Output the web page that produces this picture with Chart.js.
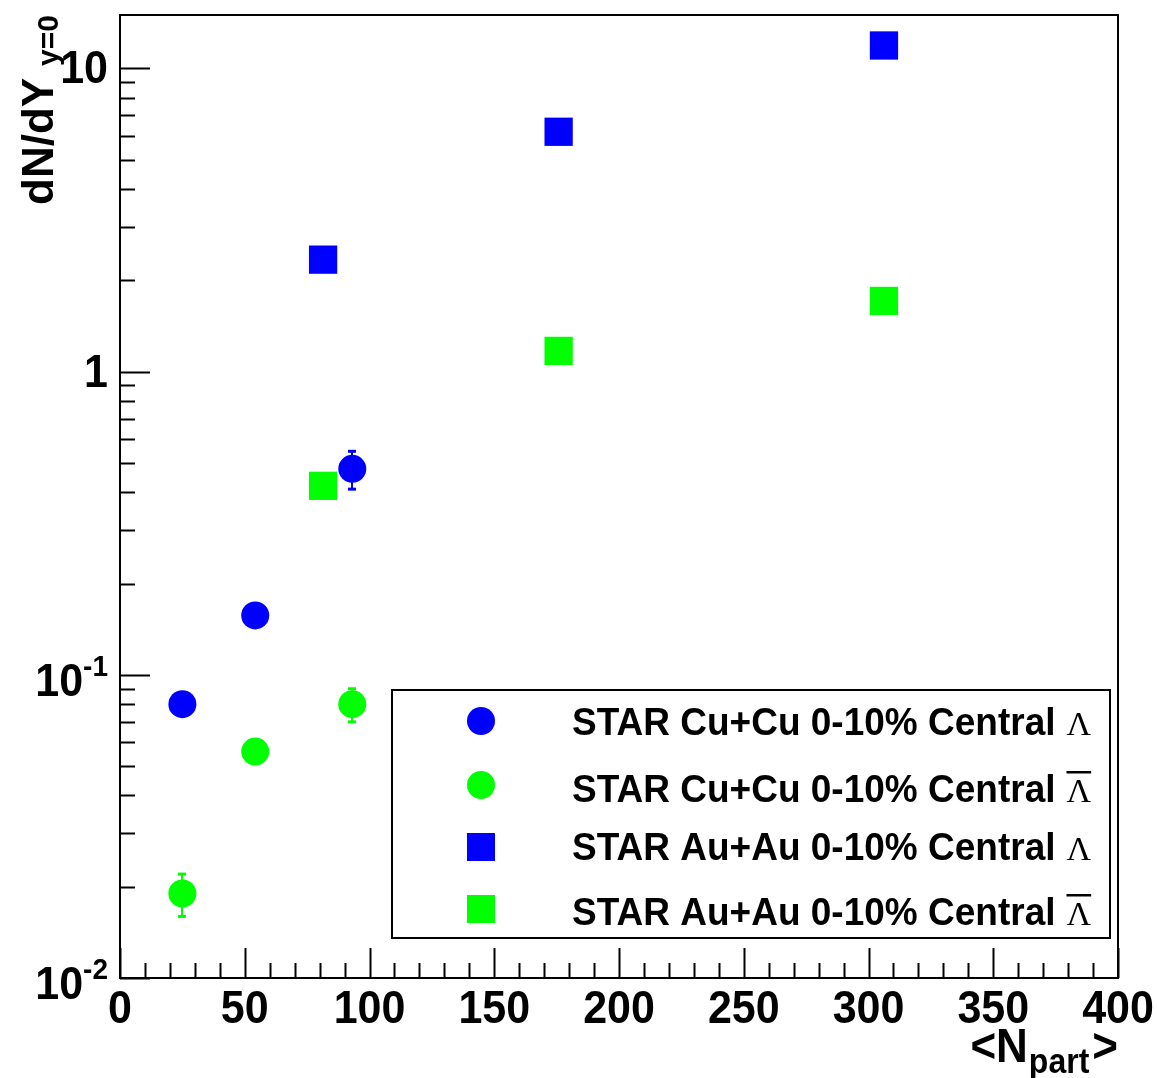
<!DOCTYPE html>
<html>
<head>
<meta charset="utf-8">
<script src="https://cdn.jsdelivr.net/npm/chart.js@4.4.0/dist/chart.umd.min.js"></script>
<style>
  html, body { margin: 0; padding: 0; background: #ffffff; }
  canvas { display: block; }
</style>
</head>
<body>
<canvas id="chart" width="1157" height="1078"></canvas>
<script>
// <N_part> of each centrality selection
const npartCuCu = [25, 54.2, 93.1];
const npartAuAu = [81.4, 175.8, 306.2];

// dN/dy at mid-rapidity
const lambdaCuCu        = [0.080, 0.157, 0.478];
const lambdaCuCuErr     = [null, null, 0.07];
const antiLambdaCuCu    = [0.019, 0.0558, 0.080];
const antiLambdaCuCuErr = [0.0031, null, 0.0103];
const lambdaAuAu        = [2.34, 6.18, 11.9];
const antiLambdaAuAu    = [0.42, 1.17, 1.71];

// legend text; the particle symbol is appended, with a bar for anti-particles
const legendLabels = [
  'STAR Cu+Cu 0-10% Central',
  'STAR Cu+Cu 0-10% Central',
  'STAR Au+Au 0-10% Central',
  'STAR Au+Au 0-10% Central'
];
const legendAnti = [false, true, false, true];

// axis tick labels
const xTickValues = [0, 50, 100, 150, 200, 250, 300, 350, 400];
const xTickLabels = ['0', '50', '100', '150', '200', '250', '300', '350', '400'];
const yTickValues = [0.01, 0.1, 1, 10];
const yTickLabels = [['10', '-2'], ['10', '-1'], ['1', ''], ['10', '']];

const BLUE = '#0000ff';
const GREEN = '#00ff00';
const SANS = '"Liberation Sans", Arial, Helvetica, sans-serif';
const SERIF = '"Liberation Serif", "Times New Roman", serif';

function points(xs, ys) {
  return xs.map((x, i) => ({ x: x, y: ys[i] }));
}

// text drawn slightly taller than the font's natural proportions
function tallText(ctx, text, x, y, sy) {
  ctx.save();
  ctx.translate(x, y);
  ctx.scale(1, sy);
  ctx.fillText(text, 0, 0);
  ctx.restore();
}

const datasets = [
  { label: legendLabels[0] + ' Λ', data: points(npartCuCu, lambdaCuCu), yErr: lambdaCuCuErr,
    pointStyle: 'circle', pointRadius: 14, backgroundColor: BLUE, borderColor: BLUE },
  { label: legendLabels[1] + ' anti-Λ', data: points(npartCuCu, antiLambdaCuCu), yErr: antiLambdaCuCuErr,
    pointStyle: 'circle', pointRadius: 14, backgroundColor: GREEN, borderColor: GREEN },
  { label: legendLabels[2] + ' Λ', data: points(npartAuAu, lambdaAuAu),
    pointStyle: 'rect', pointRadius: 20, backgroundColor: BLUE, borderColor: BLUE },
  { label: legendLabels[3] + ' anti-Λ', data: points(npartAuAu, antiLambdaAuAu),
    pointStyle: 'rect', pointRadius: 20, backgroundColor: GREEN, borderColor: GREEN }
].map(d => Object.assign(d, { pointBorderWidth: 0, pointHoverRadius: d.pointRadius, showLine: false }));

// frame, inward ticks, labels, titles, error bars and legend box
const rootStyle = {
  id: 'rootStyle',
  beforeDatasetsDraw(chart) {
    const { ctx, scales: { x, y } } = chart;
    chart.data.datasets.forEach(ds => {
      if (!ds.yErr) return;
      ds.data.forEach((p, i) => {
        const e = ds.yErr[i];
        if (!e) return;
        const px = Math.round(x.getPixelForValue(p.x));
        const hi = y.getPixelForValue(p.y + e);
        const lo = y.getPixelForValue(p.y - e);
        ctx.save();
        ctx.strokeStyle = ds.backgroundColor;
        ctx.fillStyle = ds.backgroundColor;
        ctx.lineWidth = 2;
        ctx.beginPath();
        ctx.moveTo(px, hi);
        ctx.lineTo(px, lo);
        ctx.stroke();
        ctx.fillRect(px - 4, hi - 1, 8, 3);
        ctx.fillRect(px - 4, lo - 2, 8, 3);
        ctx.restore();
      });
    });
  },
  afterDraw(chart) {
    const { ctx, chartArea: a, scales: { x, y } } = chart;
    ctx.save();
    ctx.strokeStyle = '#000';
    ctx.fillStyle = '#000';
    ctx.lineWidth = 2;
    ctx.strokeRect(a.left, a.top, a.right - a.left, a.bottom - a.top);

    // x ticks: major every 50, minor every 10
    ctx.beginPath();
    for (let v = x.min; v <= x.max; v += 10) {
      const px = Math.round(x.getPixelForValue(v)) + 0.5;
      const len = v % 50 === 0 ? 30 : 15;
      ctx.moveTo(px, a.bottom);
      ctx.lineTo(px, a.bottom - len);
    }
    // y ticks: major at decades, minor at 2..9
    yTickValues.forEach(d => {
      for (let k = 1; k <= 9; k++) {
        const v = d * k;
        if (v > y.max) break;
        const py = Math.round(y.getPixelForValue(v)) + 0.5;
        const len = k === 1 ? 30 : 15;
        ctx.moveTo(a.left, py);
        ctx.lineTo(a.left + len, py);
      }
    });
    ctx.stroke();

    // x tick labels
    ctx.font = 'bold 43px ' + SANS;
    ctx.textAlign = 'center';
    ctx.textBaseline = 'alphabetic';
    xTickValues.forEach((v, i) => {
      tallText(ctx, xTickLabels[i], x.getPixelForValue(v), a.bottom + 45, 1.08);
    });

    // y tick labels with optional exponent
    const rightEdge = a.left - 12;
    yTickValues.forEach((v, i) => {
      const py = y.getPixelForValue(v);
      const [base, exp] = yTickLabels[i];
      ctx.textAlign = 'right';
      if (exp) {
        ctx.font = 'bold 28px ' + SANS;
        const ew = ctx.measureText(exp).width;
        tallText(ctx, exp, rightEdge, py + 1, 1.08);
        ctx.font = 'bold 43px ' + SANS;
        tallText(ctx, base, rightEdge - ew, py + 21, 1.08);
      } else {
        ctx.font = 'bold 43px ' + SANS;
        tallText(ctx, base, rightEdge, py + 15, 1.08);
      }
    });

    // x axis title <N_part>, right-aligned to the frame
    ctx.textAlign = 'left';
    ctx.font = 'bold 44px ' + SANS;
    const wGt = ctx.measureText('>').width;
    const wLt = ctx.measureText('<N').width;
    ctx.font = 'bold 32px ' + SANS;
    const wSub = ctx.measureText('part').width;
    let tx = a.right - wGt;
    ctx.font = 'bold 44px ' + SANS;
    tallText(ctx, '>', tx, 1062, 1.08);
    tx -= wSub + 3;
    ctx.font = 'bold 32px ' + SANS;
    tallText(ctx, 'part', tx, 1073, 1.08);
    tx -= wLt + 1;
    ctx.font = 'bold 44px ' + SANS;
    tallText(ctx, '<N', tx, 1062, 1.08);

    // y axis title dN/dY_{y=0}, rotated, ending at the top of the frame
    ctx.save();
    ctx.translate(53, 205);
    ctx.rotate(-Math.PI / 2);
    ctx.font = 'bold 44px ' + SANS;
    ctx.textAlign = 'left';
    const wMain = ctx.measureText('dN/dY').width;
    ctx.fillText('dN/dY', 0, 0);
    ctx.font = 'bold 30px ' + SANS;
    ctx.fillText('y=0', wMain + 12, 5);
    ctx.restore();

    // legend box
    const box = { l: 392, t: 690, r: 1110, b: 938 };
    ctx.fillStyle = '#fff';
    ctx.fillRect(box.l, box.t, box.r - box.l, box.b - box.t);
    ctx.strokeStyle = '#000';
    ctx.lineWidth = 2;
    ctx.strokeRect(box.l, box.t, box.r - box.l, box.b - box.t);

    const rows = [[721, 735], [785, 802], [847, 860], [909, 925]];
    chart.data.datasets.forEach((ds, i) => {
      const [my, by] = rows[i];
      ctx.fillStyle = ds.backgroundColor;
      if (ds.pointStyle === 'circle') {
        ctx.beginPath();
        ctx.arc(481, my, 14, 0, Math.PI * 2);
        ctx.fill();
      } else {
        ctx.fillRect(481 - 14, my - 14, 28, 28);
      }
      ctx.fillStyle = '#000';
      ctx.textAlign = 'left';
      ctx.font = 'bold 37px ' + SANS;
      const label = legendLabels[i];
      tallText(ctx, label, 572, by, 1.04);
      const lx = 572 + ctx.measureText(label).width + 11;
      ctx.font = '34px ' + SERIF;
      ctx.fillText('Λ', lx, by);
      if (legendAnti[i]) {
        const lw = ctx.measureText('Λ').width;
        ctx.fillRect(lx, by - 31, lw, 2.5);
      }
    });
    ctx.restore();
  }
};

new Chart(document.getElementById('chart'), {
  type: 'scatter',
  data: { datasets: datasets },
  options: {
    responsive: false,
    animation: false,
    events: [],
    layout: { autoPadding: false, padding: { left: 120, top: 15, right: 39, bottom: 100 } },
    scales: {
      x: { type: 'linear', min: 0, max: 400, display: false },
      y: { type: 'logarithmic', min: 0.01, max: 15, display: false }
    },
    plugins: {
      legend: { display: false },
      tooltip: { enabled: false }
    }
  },
  plugins: [rootStyle]
});
</script>
</body>
</html>
